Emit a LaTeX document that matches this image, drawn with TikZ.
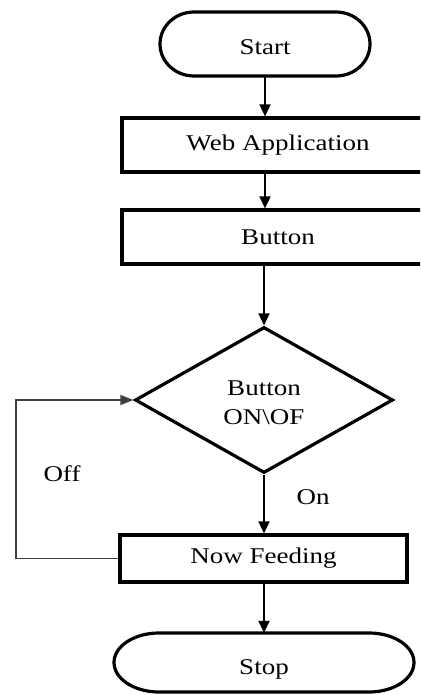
\documentclass[tikz,border=0pt]{standalone}
\usepackage{fontspec}
\setmainfont{Liberation Serif}[FakeStretch=1.2]
\usetikzlibrary{arrows.meta,shapes.geometric}

\tikzset{
  box/.style={draw=black, line width=3.2pt, rectangle, inner sep=0pt},
  decision/.style={draw=black, line width=3.2pt, diamond, inner sep=0pt,
    minimum width=258pt, minimum height=146pt, align=center},
  pillbox/.style={draw=none, inner sep=0pt},
  label/.style={inner sep=0pt},
  flow/.style={line width=1.8pt, -{Triangle[length=12pt,width=11pt]}},
  loopback/.style={line width=1.2pt, draw=black!75,
    -{Triangle[length=13pt,width=10pt]}},
  outline/.style={draw=black, line width=3.2pt},
}
% lower a label inside its node without changing the node's size
\newcommand{\lowered}[2]{\raisebox{-#1}[\height][\depth]{#2}}

\begin{document}
\begin{tikzpicture}[x=1pt, y=-1pt, font=\fontsize{22.5}{29}\selectfont]
\useasboundingbox (0,0) rectangle (420,695);
\clip (0,0) rectangle (420,695);
\fill[white] (0,0) rectangle (420,695);

% terminal: Start
\node[pillbox, minimum width=210pt, minimum height=64pt] (start) at (265,44) {\lowered{3pt}{Start}};
\draw[outline] (194,12) -- (336,12)
  arc[start angle=-90, end angle=90, x radius=34, y radius=32]
  -- (194,76)
  arc[start angle=90, end angle=270, x radius=34, y radius=32] -- cycle;

% process boxes
\node[box, minimum width=312pt, minimum height=54pt] (web) at (278,145) {Web Application};
\node[box, minimum width=312pt, minimum height=54pt] (button) at (278,237) {Button};

% decision
\node[decision] (dec) at (264,400) {\lowered{3pt}{Button}\\\lowered{3pt}{ON\textbackslash OF}};

% feeding step
\node[box, minimum width=287pt, minimum height=47pt] (feed) at (263.5,558.5) {Now Feeding};

% terminal: Stop
\node[pillbox, minimum width=300pt, minimum height=59pt] (stop) at (264,662.5) {\lowered{7pt}{Stop}};
\draw[outline] (159,633) -- (369,633)
  arc[start angle=-90, end angle=90, x radius=45, y radius=29.5]
  -- (159,692)
  arc[start angle=90, end angle=270, x radius=45, y radius=29.5] -- cycle;

% connectors
\draw[flow] (start.south) -- (start.south |- web.north);
\draw[flow] (web.south -| start.south) -- (button.north -| start.south);
\draw[flow] (button.south -| dec.north) -- (dec.north);
\draw[flow] (dec.south) -- (dec.south |- feed.north);
\draw[flow] (feed.south -| stop.north) -- (stop.north);

% loop back when off
\coordinate (lp) at (16,558.5);
\draw[loopback] (feed.west) -- (lp) |- (dec.west);

% branch labels
\node[label] (off) at (62,474) {Off};
\node[label] (on) at (313,497) {On};
\end{tikzpicture}
\end{document}
